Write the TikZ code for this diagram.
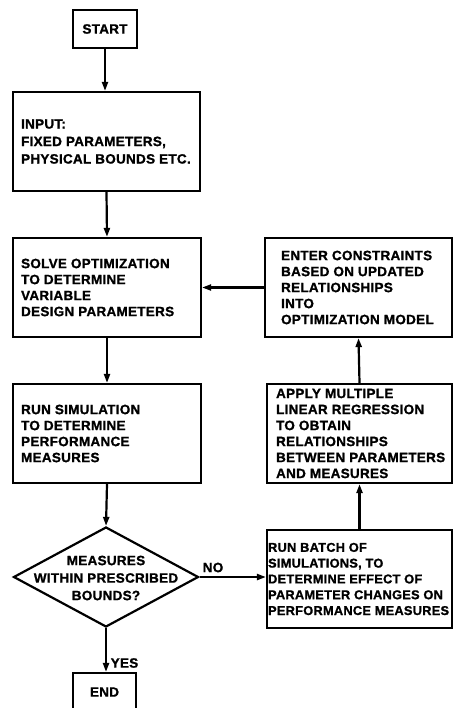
\documentclass[tikz,border=0pt]{standalone}
\usepackage{fontspec}
\setmainfont{Liberation Sans}[BoldFeatures={FakeBold=1.2,LetterSpace=2}]
\usetikzlibrary{arrows.meta,shapes.geometric}

\tikzset{
  flow/.style={line width=2.2pt},
  arr/.style={flow,-{Triangle[length=9pt,width=6pt]}},
  frame/.style={draw,line width=2.2pt,rectangle,inner sep=0pt},
  txt/.style={inner sep=0pt,align=left,
    font=\bfseries\fontsize{13.5}{16}\selectfont},
  lbl/.style={inner sep=0pt,font=\bfseries\fontsize{13.5}{16}\selectfont},
}

\begin{document}
\begin{tikzpicture}[x=1pt,y=-1pt]
\useasboundingbox (0,0) rectangle (452,708);

% terminals
\node[frame,minimum width=64pt,minimum height=38pt,lbl] (start) at (105,29) {START};
\node[frame,minimum width=63pt,minimum height=38pt,lbl] (end) at (104.5,692) {END};

% left column
\node[frame,minimum width=187pt,minimum height=99pt] (input) at (106.5,141.5) {};
\node[txt,anchor=west,font=\bfseries\fontsize{13.5}{17.5}\selectfont] (inputtxt)
  at ([xshift=9pt]input.west) {INPUT:\\FIXED PARAMETERS,\\PHYSICAL BOUNDS ETC.};

\node[frame,minimum width=188pt,minimum height=99pt] (solve) at (107,287.5) {};
\node[txt,anchor=west] (solvetxt) at ([xshift=9pt]solve.west)
  {SOLVE OPTIMIZATION\\TO DETERMINE\\VARIABLE\\DESIGN PARAMETERS};

\node[frame,minimum width=188pt,minimum height=99pt] (sim) at (107,433.5) {};
\node[txt,anchor=west] (simtxt) at ([xshift=9pt]sim.west)
  {RUN SIMULATION\\TO DETERMINE\\PERFORMANCE\\MEASURES};

% decision
\node[draw,line width=2.2pt,diamond,inner sep=0pt,
  minimum width=185pt,minimum height=100pt] (dec) at (106,577) {};
\node[lbl,align=center,font=\bfseries\fontsize{13.5}{17.5}\selectfont] (dectxt) at (106,578)
  {MEASURES\\WITHIN PRESCRIBED\\BOUNDS?};

% right column
\node[frame,minimum width=187pt,minimum height=99pt] (enter) at (358.5,287.5) {};
\node[txt,anchor=west] (entertxt) at ([xshift=17pt]enter.west)
  {ENTER CONSTRAINTS\\BASED ON UPDATED\\RELATIONSHIPS\\INTO\\OPTIMIZATION MODEL};

\node[frame,minimum width=185pt,minimum height=99pt] (reg) at (359.5,433.5) {};
\node[txt,anchor=west] (regtxt) at ([xshift=10pt]reg.west)
  {APPLY MULTIPLE\\LINEAR REGRESSION\\TO OBTAIN\\RELATIONSHIPS\\BETWEEN PARAMETERS\\AND MEASURES};

\node[frame,minimum width=185pt,minimum height=98pt] (batch) at (359.5,579) {};
\node[txt,anchor=west,font=\bfseries\fontsize{12.8}{15.8}\selectfont] (batchtxt)
  at ([xshift=2pt]batch.west)
  {RUN BATCH OF\\SIMULATIONS, TO\\DETERMINE EFFECT OF\\PARAMETER CHANGES ON\\PERFORMANCE MEASURES};

% connectors
\draw[arr] (start.south) -- (start.south |- input.north);
\draw[arr] (input.south) -- (solve.north);
\draw[arr] (solve.south) -- (sim.north);
\draw[arr] (sim.south) -- (dec.north);
\draw[arr] (dec.east) -- (dec.east -| batch.west);
\draw[arr] (batch.north) -- (reg.south);
\draw[arr] (reg.north) -- (enter.south);
\draw[arr] (enter.west) -- (solve.east |- enter.west);
\draw[arr] (dec.south) -- (dec.south |- end.north);

% branch labels
\node[lbl] (no) at (213,567.5) {NO};
\node[lbl] (yes) at (124.5,663) {YES};
\end{tikzpicture}
\end{document}
